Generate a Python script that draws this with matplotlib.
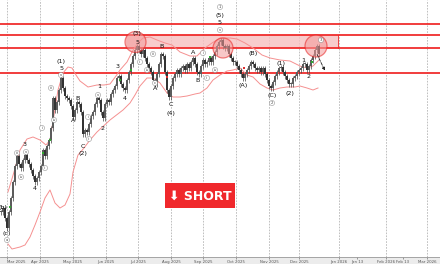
import matplotlib.pyplot as plt
from matplotlib.patches import Ellipse, Rectangle

# daily closes, one bar per trading day (Mar 2025 - Dec 2025)
closes = [45, 49, 39, 29, 45, 59, 75, 91, 101, 93,
          89, 97, 102, 97, 93, 87, 81, 75, 79, 85,
          91, 107, 101, 111, 117, 129, 159, 147, 155, 167,
          179, 169, 161, 159, 157, 151, 140, 147, 155, 153,
          145, 123, 127, 125, 133, 141, 145, 153, 159, 157,
          145, 139, 153, 157, 155, 163, 167, 171, 179, 181,
          173, 169, 167, 177, 185, 193, 201, 207, 211, 207,
          203, 207, 199, 193, 189, 185, 177, 173, 183, 193,
          203, 201, 185, 167, 160, 171, 179, 183, 187, 183,
          189, 191, 187, 193, 189, 195, 199, 193, 185, 183,
          191, 197, 193, 195, 199, 195, 201, 205, 211, 215,
          217, 211, 209, 211, 203, 199, 195, 195, 191, 187,
          183, 179, 183, 187, 191, 195, 193, 189, 187, 189,
          185, 189, 183, 177, 171, 169, 175, 181, 185, 189,
          190, 185, 181, 177, 173, 173, 179, 181, 185, 187,
          189, 193, 193, 187, 191, 197, 201, 207, 211, 203]

# bollinger bands
upper_x = [3.5, 6.5, 9.5, 13, 16, 19.5, 22.5, 24.5, 26.5, 28.5, 31, 33.5, 35.5, 37.5,
           39.5, 43.5, 48, 51.5, 54.5, 57.5, 59.5, 63, 65.5, 68, 71, 74.5, 78, 82,
           85.5, 89.5, 94.5, 98, 102, 105.5, 109.5, 114.5, 118, 122, 126, 130.5,
           134.5, 139.5, 144.5, 149.5, 153, 156, 159]
upper_y = [65, 85, 107, 118, 120, 117, 112, 117, 142, 167, 184, 190, 189, 182,
           176, 170, 172, 172, 173, 181, 187, 195, 205, 213, 219, 220, 217, 214,
           212, 205, 201, 201, 209, 214, 219, 219, 218, 214, 209, 202,
           199, 197, 196, 191, 189, 191, 197]
lower_x = [3.5, 5.5, 9.5, 12, 14.5, 17, 19.5, 22, 24.5, 27, 29.5, 32, 34.5, 36,
           38.5, 41.5, 44.5, 48, 54.5, 61, 64.5, 67, 69.5, 73, 76, 79.5, 83, 86,
           89.5, 93, 97, 99.5, 103, 106, 109.5, 113, 116, 119.5, 123, 126, 129.5,
           133, 136, 139.5, 143, 147, 149.5, 153, 156, 158.5]
lower_y = [13, 8, 10, 12, 20, 32, 45, 59, 67, 54, 49, 52, 63, 85,
           102, 109, 117, 125, 137, 147, 154, 162, 171, 179, 179, 174, 164, 160,
           160, 161, 163, 164, 169, 177, 182, 186, 187, 189, 182, 180, 173,
           169, 167, 169, 170, 170, 171, 169, 167, 169]

levels = [233, 222, 209, 184]
zone_x = [62.5, 168.5]
zone_y = [209, 222]

green_x = [4.5, 21, 24.5, 59.5, 65, 104.5, 155.5]
green_y = [50, 104, 117, 177, 187, 200, 195]
red_x = [83, 121.5]
red_y = [180, 189]

tick_pos = [3, 19.5, 36, 52.5, 68.5, 85, 101, 117.5, 134, 149, 169, 178, 192.5, 201, 213]
tick_labels = ["Mar 2025", "Apr 2025", "May 2025", "Jun 2025", "Jul 2025", "Aug 2025",
               "Sep 2025", "Oct 2025", "Nov 2025", "Dec 2025", "Jan 2026", "Jan 13",
               "Feb 2026", "Feb 13", "Mar 2026"]
grid_pos = [3, 19.5, 36, 52.5, 68.5, 85, 101, 117.5, 134, 149, 169, 192.5, 213]

# wave labels
waves = [("(1)", 30, 196), ("5", 30, 189), ("3", 12, 112), ("4", 17, 69),
         ("A", 36, 136), ("B", 38.5, 158), ("C", 41, 111), ("(2)", 41, 103),
         ("1", 49, 170), ("2", 51, 129), ("3", 58.5, 191), ("4", 62, 159),
         ("(3)", 68, 223), ("5", 68, 215), ("A", 77, 168), ("B", 80.5, 210),
         ("C", 85, 152), ("(4)", 85, 144), ("A", 96, 204), ("B", 98.5, 176),
         ("(5)", 109.5, 242), ("5", 109.5, 235), ("(A)", 121, 172), ("(B)", 126, 203),
         ("(C)", 135.5, 161), ("(1)", 140, 194), ("(2)", 144.5, 164),
         ("1", 151, 196), ("2", 154, 181), ("(b)", 1, 49), ("(c)", 3, 24)]
subwaves = [("a", 3, 17), ("iii", 8, 104), ("iv", 10, 80), ("v", 12.5, 105),
            ("i", 20.5, 129), ("ii", 22, 89), ("iii", 25, 169), ("iv", 26.5, 137),
            ("v", 30, 182), ("i", 43.5, 140), ("ii", 44, 118), ("v", 48.5, 162),
            ("ii", 69.5, 195), ("iv", 73, 187), ("iii", 76, 203), ("c", 77, 174),
            ("i", 101, 204), ("ii", 103, 179), ("iv", 107, 187),
            ("1", 109.5, 250), ("v", 109.5, 227), ("2", 135.5, 154), ("3", 160, 217)]

fig = plt.figure(figsize=(4.4, 2.64), dpi=100)
strip = Rectangle((0, 0), 1, 7 / 264, transform=fig.transFigure,
                  facecolor="#ececec", edgecolor="none", zorder=-5)
fig.patches.append(strip)
ax = fig.add_axes([0, 7 / 264, 1, 257 / 264])
ax.set_xlim(-0.5, 219.5)
ax.set_ylim(0, 257)
ax.patch.set_alpha(0)

for g in grid_pos:
    ax.axvline(g, color="#b5b5b5", lw=0.6, ls=(0, (2, 1.5)), zorder=0)

# resistance zone and levels
ax.fill_between(zone_x, zone_y[0], zone_y[1], color="#f7c0c0", alpha=0.8, lw=0, zorder=1)
ax.plot([zone_x[1], zone_x[1]], zone_y, color="#f04040", lw=0.7, zorder=2)
for lv in levels:
    ax.axhline(lv, color="#f02828", lw=1.4, alpha=0.9, zorder=2)

ax.plot(upper_x, upper_y, color="#f59090", lw=0.7, zorder=3)
ax.plot(lower_x, lower_y, color="#f59090", lw=0.7, zorder=3)

# candles, open = previous close
opens = [closes[0]] + closes[:-1]
for i, (o, c) in enumerate(zip(opens, closes)):
    lo, hi = min(o, c), max(o, c)
    col = "#333333" if c < o else "#5c5c5c"
    ax.vlines(i, lo - 2.5, hi + 2.5, color="#444444", lw=0.5, zorder=4)
    ax.bar(i, max(hi - lo, 1.5), bottom=lo, width=0.9, color=col, lw=0, zorder=5)

ax.scatter(green_x, green_y, marker="s", s=3, color="#2eaa2e", zorder=6, lw=0)
ax.scatter(red_x, red_y, marker="s", s=3, color="#e03030", zorder=6, lw=0)

for cx, cy, w in [(67.25, 215, 10.5), (111, 209, 10), (157.5, 211, 11)]:
    ax.add_patch(Ellipse((cx, cy), w, 2 * w, facecolor="#f49a9a", alpha=0.55,
                         edgecolor="#e82020", lw=0.9, zorder=7))

for t, x, y in waves:
    ax.text(x, y, t, fontsize=4.6, ha="center", va="center", color="#111111", zorder=8)
for t, x, y in subwaves:
    ax.text(x, y, t, fontsize=2.7, ha="center", va="center", color="#444444", zorder=8,
            bbox=dict(boxstyle="circle,pad=0.15", fc="white", ec="#777777", lw=0.3))

ax.annotate("", xy=(162.5, 184), xytext=(157.5, 205),
            arrowprops=dict(arrowstyle="-|>", color="#222222", lw=0.6,
                            ls="--", mutation_scale=4), zorder=9)

ax.set_xticks(tick_pos)
ax.set_xticklabels(tick_labels)
ax.tick_params(axis="x", labelsize=2.8, colors="#555555", length=1.5, width=0.4, pad=0.5)
ax.get_xticklabels()[0].set_ha("left")
ax.get_xticklabels()[0].set_x(0)
ax.set_yticks([])
for s in ["top", "left", "right"]:
    ax.spines[s].set_visible(False)
ax.spines["bottom"].set_color("#999999")
ax.spines["bottom"].set_linewidth(0.6)

# sell signal badge
fig.patches.append(Rectangle((165 / 440, 1 - 208 / 264), 70 / 440, 25 / 264,
                             transform=fig.transFigure, facecolor="#f0282c",
                             edgecolor="none", zorder=10))
fig.text(200 / 440, 1 - 196 / 264, "⬇ SHORT", color="white", fontsize=9,
         fontweight="bold", ha="center", va="center", zorder=11)

fig.savefig("out.png", dpi=100)
